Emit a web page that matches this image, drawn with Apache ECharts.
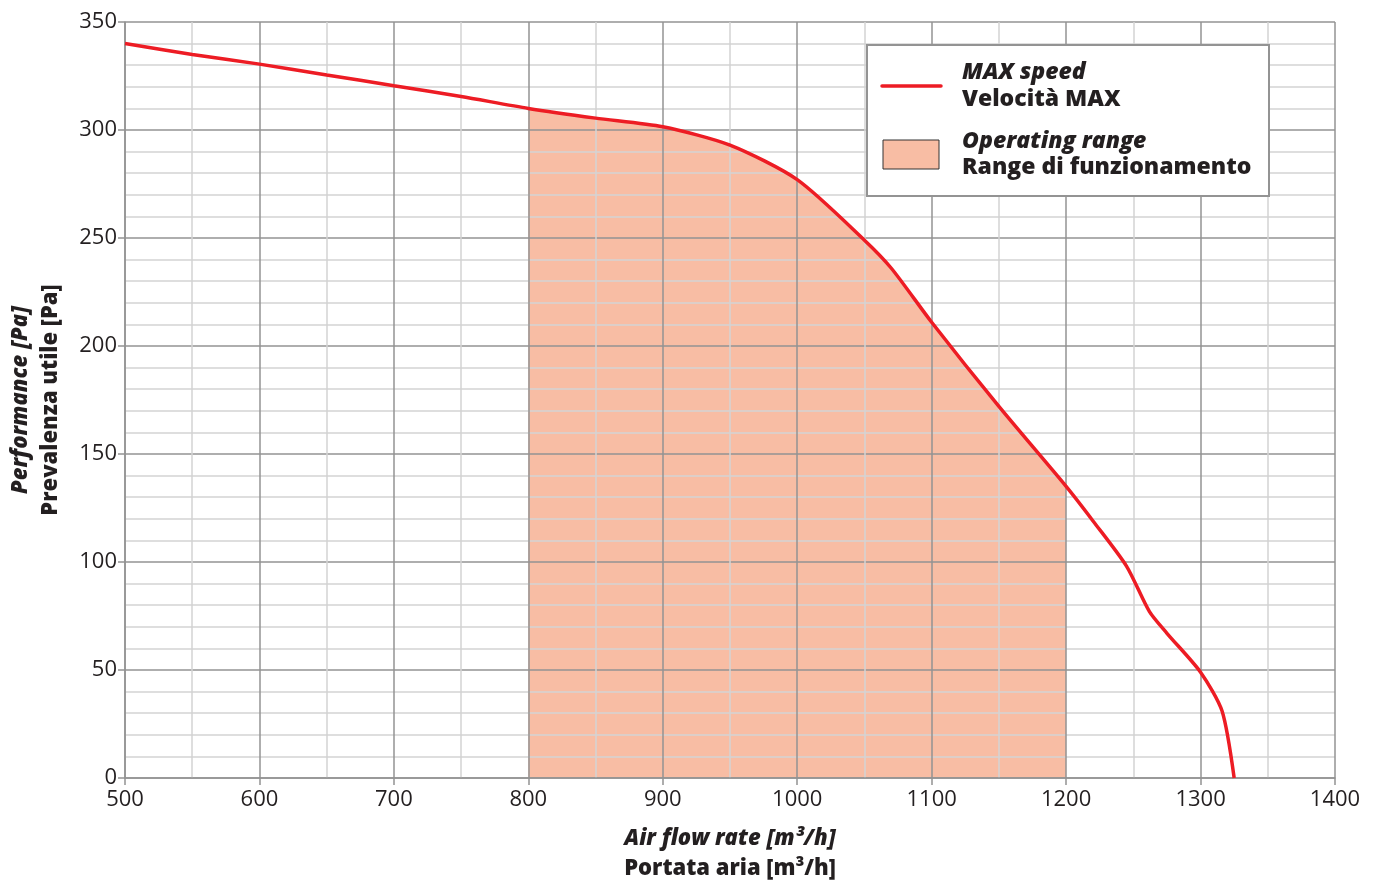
<!DOCTYPE html>
<html>
<head>
<meta charset="utf-8">
<script src="https://cdn.jsdelivr.net/npm/echarts@6/dist/echarts.min.js"></script>
<style>
  html, body { margin: 0; padding: 0; background: #fff; }
  #chart { width: 1379px; height: 883px; }
</style>
</head>
<body>
<div id="chart"></div>
<script>
// air flow [m3/h] and pressure [Pa]
const flow = [500, 550, 600, 650, 700, 750, 800, 850, 900, 950, 1000, 1050, 1070, 1100, 1150, 1200, 1220, 1245, 1262, 1275, 1300, 1316, 1325];
const pressure = [340, 335, 330.5, 325.5, 320.5, 315.5, 310, 305.5, 301.5, 293, 277, 249, 236, 211, 172, 135, 119, 98, 77, 67, 49, 31, 0];

// operating range limits
const rangeMin = 800;
const rangeMax = 1200;

const fontFam = "'Open Sans', 'Noto Sans', sans-serif";
const textCol = "#231f20";

let curve = flow.map((f, i) => [f, pressure[i]]);
let rangePts = curve.filter((p) => p[0] >= rangeMin && p[0] <= rangeMax);

let dom = document.getElementById("chart");
let myChart = echarts.init(dom, null, { renderer: "canvas" });

const nameRich = {
  a: { fontSize: 22, fontWeight: 800, fontStyle: "italic", color: textCol, fontFamily: fontFam, lineHeight: 30 },
  b: { fontSize: 22, fontWeight: 800, color: textCol, fontFamily: fontFam, lineHeight: 30 },
};

let option = {
  animation: false,
  grid: { left: 125, right: 44, top: 22, bottom: 105, outerBoundsMode: "none", containLabel: false },
  xAxis: {
    type: "value",
    min: 500,
    max: 1400,
    interval: 100,
    z: 2,
    axisLine: { lineStyle: { color: "#939393", width: 1.5 } },
    axisTick: { length: 7, lineStyle: { color: "#939393", width: 1.5 } },
    axisLabel: { color: textCol, fontSize: 22, fontFamily: fontFam, margin: 11, formatter: (v) => String(v) },
    splitLine: { lineStyle: { color: "#939393", width: 1.5 } },
    minorTick: { show: false, splitNumber: 2 },
    minorSplitLine: { show: true, lineStyle: { color: "#d4d4d4", width: 1.5 } },
    name: "{a|Air flow rate [m³/h]}\n{b|Portata aria [m³/h]}",
    nameLocation: "middle",
    nameGap: 46,
    nameTextStyle: { verticalAlign: "top", rich: nameRich },
  },
  yAxis: {
    type: "value",
    min: 0,
    max: 350,
    interval: 50,
    z: 2,
    axisLine: { show: true, lineStyle: { color: "#939393", width: 1.5 } },
    axisTick: { show: true, length: 7, lineStyle: { color: "#939393", width: 1.5 } },
    axisLabel: { color: textCol, fontSize: 22, fontFamily: fontFam, margin: 8, formatter: (v) => String(v) },
    splitLine: { lineStyle: { color: "#939393", width: 1.5 } },
    minorTick: { show: false, splitNumber: 5 },
    minorSplitLine: { show: true, lineStyle: { color: "#d4d4d4", width: 1.5 } },
    name: "{a|Performance [Pa]}\n{b|Prevalenza utile [Pa]}",
    nameLocation: "middle",
    nameGap: 59,
    nameRotate: 90,
    nameTextStyle: { rich: nameRich },
  },
  series: [
    {
      name: "Operating range",
      type: "line",
      z: 1,
      data: rangePts,
      smooth: 0.25,
      showSymbol: false,
      lineStyle: { width: 0 },
      areaStyle: { color: "#f8bda4", opacity: 1 },
    },
    {
      name: "MAX speed",
      type: "line",
      z: 3,
      data: curve,
      smooth: 0.25,
      showSymbol: false,
      lineStyle: { color: "#ed1c24", width: 3.5 },
    },
  ],
  graphic: [
    {
      type: "group",
      left: 866,
      top: 44,
      z: 100,
      children: [
        { type: "rect", z: 100, shape: { x: 0, y: 0, width: 402, height: 151 }, style: { fill: "#fff", stroke: "#939393", lineWidth: 2 } },
        { type: "line", z: 101, shape: { x1: 15, y1: 41, x2: 74, y2: 41 }, style: { stroke: "#ed1c24", lineWidth: 3.5, lineCap: "round" } },
        { type: "rect", z: 101, shape: { x: 16, y: 95, width: 56, height: 29 }, style: { fill: "#f8bda4", stroke: "#333", lineWidth: 1 } },
        { type: "text", z: 101, x: 95, y: 27, style: { text: "MAX speed", font: "italic 800 23px " + fontFam, fill: textCol, verticalAlign: "middle" } },
        { type: "text", z: 101, x: 95, y: 54, style: { text: "Velocità MAX", font: "800 23px " + fontFam, fill: textCol, verticalAlign: "middle" } },
        { type: "text", z: 101, x: 95, y: 96, style: { text: "Operating range", font: "italic 800 23px " + fontFam, fill: textCol, verticalAlign: "middle" } },
        { type: "text", z: 101, x: 95, y: 122, style: { text: "Range di funzionamento", font: "800 23px " + fontFam, fill: textCol, verticalAlign: "middle" } },
      ],
    },
  ],
};

myChart.setOption(option);
</script>
</body>
</html>
